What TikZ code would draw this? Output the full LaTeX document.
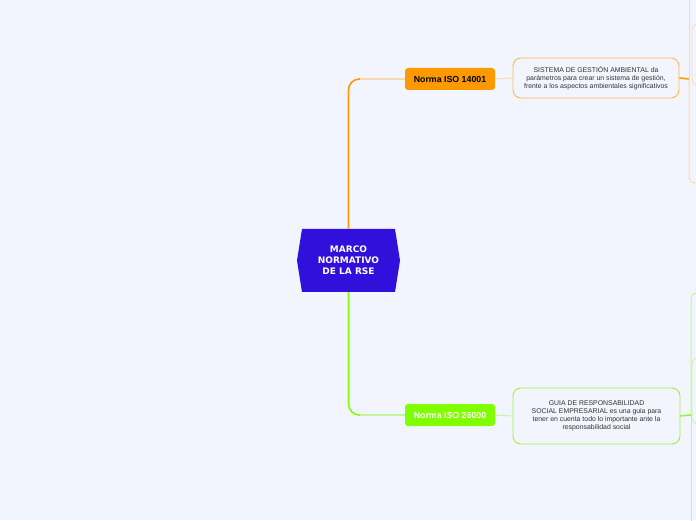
\documentclass[tikz,border=0pt]{standalone}
\usepackage{fontspec}
\setmainfont{Liberation Sans}
\newfontfamily\rootfont{DejaVu Sans}
\usetikzlibrary{shapes.symbols}

\definecolor{bgpaper}{HTML}{F3F5FE}
\definecolor{rootblue}{HTML}{3210DC}
\definecolor{isoorange}{HTML}{FF9900}
\definecolor{isoorangelt}{HTML}{F9D9AE}
\definecolor{isoorangemd}{HTML}{FFB44D}
\definecolor{isogreen}{HTML}{80FF00}
\definecolor{isogreenlt}{HTML}{C2F59A}
\definecolor{isogreenmd}{HTML}{99EE44}

\tikzset{
  rootbox/.style={signal, signal to=west and east, signal pointer angle=162,
    fill=rootblue, text=white, minimum width=103pt, minimum height=63pt,
    inner sep=0pt, font=\rootfont\bfseries\fontsize{9}{11}\selectfont, align=center},
  normabox/.style={rectangle, rounded corners=3pt, minimum width=90pt,
    minimum height=22pt, inner sep=0pt, font=\bfseries\fontsize{8.8}{10}\selectfont},
  notebox/.style={rectangle, rounded corners=8pt, draw, line width=0.9pt,
    fill=bgpaper, inner sep=0pt, align=center, text=black!80,
    font=\fontsize{6.9}{8}\selectfont},
  childbox/.style={rectangle, rounded corners=6pt, draw, line width=0.7pt,
    minimum width=80pt, inner sep=0pt},
}

\begin{document}
\begin{tikzpicture}[x=1pt,y=1pt]
\useasboundingbox[fill=bgpaper] (0,0) rectangle (696,520);
\clip (0,0) rectangle (696,520);

% Central topic
\node[rootbox] (root) at (348.5,259.5) {MARCO\\NORMATIVO\\DE LA RSE};

% Branch ISO 14001
\node[normabox, fill=isoorange, text=black] (iso14) at (450,441) {Norma ISO 14001};
\node[notebox, draw=isoorangemd, minimum width=166pt, minimum height=40pt] (gestion) at (596,442)
  {SISTEMA DE GESTIÓN AMBIENTAL da\\parámetros para crear un sistema de gestión,\\frente a los aspectos ambientales significativos};
\node[childbox, draw=isoorangelt, minimum height=61pt] (amb1) at (732,465.5) {};
\coordinate (j14) at (689,441);
\coordinate (up14) at (689,530);
\coordinate (dn14) at (730,337);

\draw[isoorange, line width=1.6pt, rounded corners=11pt] (root.north) |- (iso14.west);
\draw[isoorangelt, line width=1.2pt] (360,441) -- (iso14.west);
\draw[isoorangelt, line width=1pt] (iso14.east) -- (gestion.west);
\draw[isoorange, line width=1.6pt] (gestion.east) -- (j14);
\draw[isoorangelt, line width=1pt] (j14) -- (up14);
\draw[isoorangelt, line width=1pt, rounded corners=6pt] (j14) |- (dn14);

% Branch ISO 26000
\node[normabox, fill=isogreen, text=white] (iso26) at (450,105) {Norma ISO 26000};
\node[notebox, draw=isogreenmd, minimum width=167pt, minimum height=56pt] (guia) at (596.5,104)
  {GUIA DE RESPONSABILIDAD\\SOCIAL EMPRESARIAL es una guia para\\tener en cuenta todo lo importante ante la\\responsabilidad social};
\node[childbox, draw=isogreenlt, minimum height=66pt] (soc1) at (732,129) {};
\coordinate (j26) at (691,105);
\coordinate (up26) at (730,227);
\coordinate (dn26) at (691,-10);

\draw[isogreen, line width=1.6pt, rounded corners=11pt] (root.south) |- (iso26.west);
\draw[isogreenlt, line width=1.2pt] (360,105) -- (iso26.west);
\draw[isogreenlt, line width=1pt] (iso26.east) -- (guia.west);
\draw[isogreenmd, line width=1.6pt] (guia.east) -- (j26);
\draw[isogreenlt, line width=1pt, rounded corners=6pt] (j26) |- (up26);
\draw[isogreenlt, line width=1pt] (j26) -- (dn26);
\end{tikzpicture}
\end{document}
